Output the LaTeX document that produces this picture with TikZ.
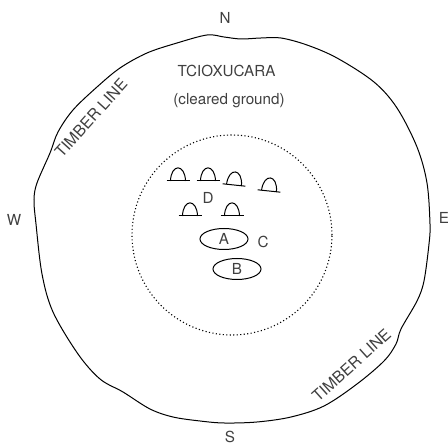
\documentclass[tikz,border=0pt]{standalone}
\usepackage{fontspec}
\setmainfont{TeX Gyre Heros}
\usetikzlibrary{shapes.geometric}
\tikzset{
    label text/.style = {text = black!75, inner sep = 0pt, font = \fontsize{15.2}{17}\selectfont},
    line text/.style = {label text, font = \fontsize{15.8}{17}\selectfont},
    camp ellipse/.style = {draw, line width = 1pt, ellipse, minimum width = 48pt, minimum height = 21pt, inner sep = 0pt},
}
\begin{document}
\begin{tikzpicture}[x = 1pt, y = 1pt]
        \useasboundingbox (0,0) rectangle (448,444);
        % timber line
        \draw [line width = 1pt] plot [smooth cycle, tension = 0.55] coordinates {
            (207,409) (177,401) (147,391) (120,376) (97,357) (73,334) (58,312) (50,291)
            (37,261) (34,244) (36,220) (42,170) (53,132) (78,90) (100,65) (123,52)
            (150,35) (173,27) (200,23) (224,21) (257,22) (291,27) (324,38)
            (357,60) (384,83) (396,100) (401,115) (417,143) (424,163) (429,200)
            (430,220) (427,261) (417,297) (397,336) (374,362) (337,386) (307,399)
            (281,406) (261,406) (241,405) (224,407)};
        % cleared circle
        \draw [line width = 1.1pt, dash pattern = on 1.1pt off 2.4pt] (232,209) circle (100);
        % houses
        \foreach \x/\y/\r in {178/263/0, 208/263/0, 234/259/-6, 269/253/-6, 190/228/0, 232/228/0} {
            \begin{scope}[shift = {(\x,\y)}, rotate = \r]
                \draw [line width = 1pt] (-11.5,0) -- (11.5,0);
                \draw [line width = 1pt] (-7.5,0) .. controls (-7,17.5) and (7,17.5) .. (7.5,0);
            \end{scope}
        }
        \node [label text] (north) at (225,426) {N};
        \node [label text] (south) at (230,7.5) {S};
        \node [label text] (west) at (14,224) {W};
        \node [label text] (east) at (444,226) {E};
        \node [label text] (village) at (226.5,373) {TCIOXUCARA};
        \node [label text] (cleared) at (229,343) {(cleared ground)};
        \node [line text, rotate = 48] (timber nw) at (91,326) {TIMBER LINE};
        \node [line text, rotate = 42] (timber se) at (351.5,79) {TIMBER LINE};
        \node [label text] (d) at (208,246) {D};
        \node [label text] (c) at (263,202) {C};
        \node [camp ellipse] (a) at (224,205) {};
        \node [label text] at (a) {A};
        \node [camp ellipse] (b) at (237,175) {};
        \node [label text] at (b) {B};
    \end{tikzpicture}
\end{document}
